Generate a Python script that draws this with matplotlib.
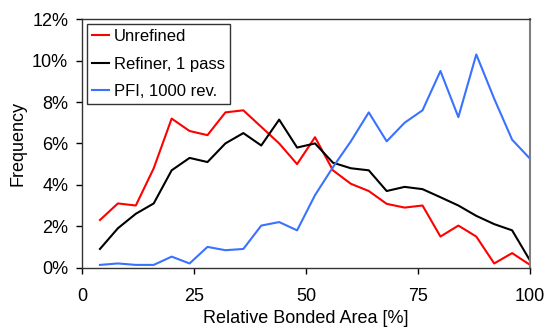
import matplotlib
matplotlib.use("Agg")
import matplotlib.pyplot as plt
from matplotlib.ticker import FuncFormatter

plt.rcParams['font.family'] = ['Liberation Sans', 'DejaVu Sans']

rba = [4, 8, 12, 16, 20, 24, 28, 32, 36, 40, 44, 48, 52, 56, 60, 64, 68, 72, 76, 80, 84, 88, 92, 96, 100]
unrefined = [2.3, 3.1, 3.0, 4.8, 7.2, 6.6, 6.4, 7.5, 7.6, 6.8, 6.0, 5.0, 6.3, 4.7, 4.05, 3.7, 3.08, 2.9, 3.0, 1.5, 2.03, 1.5, 0.2, 0.7, 0.13]
refiner = [0.9, 1.9, 2.6, 3.1, 4.7, 5.3, 5.1, 6.0, 6.5, 5.9, 7.15, 5.8, 6.0, 5.07, 4.8, 4.7, 3.7, 3.9, 3.79, 3.4, 3.0, 2.5, 2.1, 1.8, 0.34]
pfi = [0.13, 0.2, 0.13, 0.13, 0.53, 0.2, 1.0, 0.84, 0.9, 2.03, 2.2, 1.8, 3.5, 4.85, 6.1, 7.5, 6.1, 7.0, 7.6, 9.5, 7.27, 10.3, 8.16, 6.18, 5.26]

fig = plt.figure(figsize=(5.47, 3.32), dpi=100)
ax = fig.add_axes([0.150, 0.194, 0.819, 0.748])

ax.plot(rba, unrefined, color='#ff0000', lw=1.5, label='Unrefined')
ax.plot(rba, refiner, color='#000000', lw=1.5, label='Refiner, 1 pass')
ax.plot(rba, pfi, color='#3a72ff', lw=1.5, label='PFI, 1000 rev.')

ax.set_xlim(0, 100)
ax.set_ylim(0, 12)
ax.set_xticks([0, 25, 50, 75, 100])
ax.set_yticks([0, 2, 4, 6, 8, 10, 12])
ax.yaxis.set_major_formatter(FuncFormatter(lambda v, p: f"{int(v)}%"))
ax.tick_params(labelsize=13, direction='out', length=4, width=1, colors='black')
ax.tick_params(axis='x', pad=11)
ax.tick_params(axis='y', pad=6)
ax.set_xlabel('Relative Bonded Area [%]', fontsize=13, labelpad=3)
ax.set_ylabel('Frequency', fontsize=13, labelpad=4)
for s in ax.spines.values():
    s.set_color('#333333')
    s.set_linewidth(1)
ax.spines['right'].set_color('#808080')
ax.spines['right'].set_linewidth(1.5)

leg = ax.legend(loc='upper left', fontsize=12, frameon=True, fancybox=False,
                edgecolor='black', handlelength=1.0, handletextpad=0.3,
                borderpad=0.3, labelspacing=0.75, borderaxespad=0.3)
leg.get_frame().set_linewidth(1)

fig.savefig('out.png', dpi=100)
